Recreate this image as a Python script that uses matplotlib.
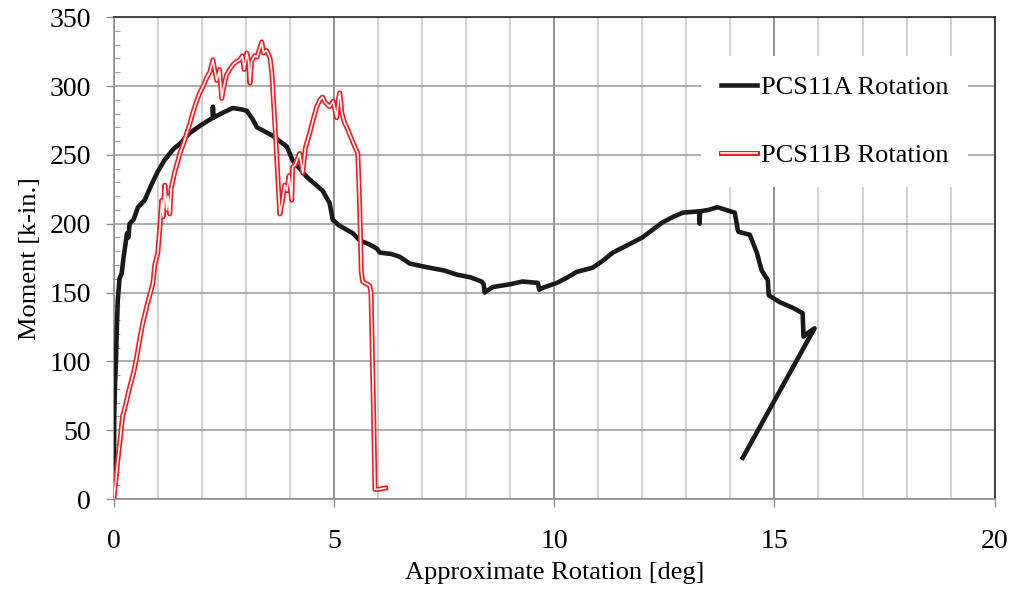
import matplotlib.pyplot as plt
import matplotlib.patheffects as pe
from matplotlib.ticker import MultipleLocator

plt.rcParams['font.family'] = ['Liberation Serif', 'DejaVu Serif']

# PCS11A rotation (deg) vs moment (k-in.)
rot_a = [0, 0.01, 0.03, 0.05, 0.07, 0.09, 0.13, 0.18, 0.22, 0.3, 0.33, 0.36, 0.45,
         0.55, 0.7, 0.85, 1.0, 1.15, 1.32, 1.38, 1.5, 1.73, 2.0, 2.25, 2.25, 2.26,
         2.5, 2.7, 2.9, 3.02, 3.15, 3.25, 3.6, 3.93, 4.06, 4.38, 4.74, 4.9, 4.97,
         5.1, 5.43, 5.58, 5.8, 5.97, 6.04, 6.3, 6.49, 6.72, 7.17, 7.5, 7.79, 8.1,
         8.35, 8.4, 8.42, 8.6, 9.0, 9.28, 9.63, 9.66, 9.7, 10.06, 10.3, 10.51,
         10.87, 11.1, 11.33, 11.7, 12.0, 12.25, 12.46, 12.7, 12.92, 13.3, 13.3,
         13.31, 13.5, 13.71, 13.9, 14.1, 14.17, 14.19, 14.44, 14.6, 14.71, 14.85,
         14.87, 15.12, 15.41, 15.64, 15.66, 15.73, 15.91, 14.28]
mom_a = [0, 60, 85, 101, 125, 144, 160, 164, 175, 193, 190, 200, 203,
         212, 217, 228, 238, 246, 253, 255, 258, 266, 272, 277, 285, 277,
         281, 284, 283, 282, 276, 270, 264, 256, 246, 234, 224, 215, 203,
         199, 193, 188, 185, 182, 179, 178, 176, 171, 168, 166, 163, 161,
         158, 156, 150, 154, 156, 158, 157, 152, 153, 157, 161, 165,
         168, 173, 179, 185, 190, 196, 201, 205, 208, 209, 200,
         209, 210, 212, 210, 208, 195, 194, 192, 179, 166, 159,
         148, 143, 139, 135, 118, 120, 124, 30]

# PCS11B rotation (deg) vs moment (k-in.)
rot_b = [0, 0.05, 0.09, 0.15, 0.2, 0.28, 0.36, 0.45, 0.52, 0.6, 0.66, 0.75, 0.89,
         0.93, 1.0, 1.04, 1.09, 1.12, 1.16, 1.2, 1.23, 1.27, 1.3, 1.38, 1.45, 1.5,
         1.58, 1.66, 1.72, 1.79, 1.87, 1.95, 2.03, 2.11, 2.18, 2.25, 2.3, 2.34,
         2.4, 2.45, 2.5, 2.56, 2.63, 2.72, 2.8, 2.86, 2.92, 2.96, 3.02, 3.06, 3.09,
         3.13, 3.2, 3.25, 3.3, 3.36, 3.4, 3.46, 3.5, 3.55, 3.59, 3.68, 3.77, 3.82,
         3.88, 3.93, 3.98, 4.04, 4.06, 4.12, 4.18, 4.22, 4.29, 4.35, 4.45, 4.53,
         4.61, 4.68, 4.74, 4.8, 4.9, 4.98, 5.06, 5.1, 5.13, 5.18, 5.24, 5.29, 5.38,
         5.47, 5.54, 5.58, 5.62, 5.65, 5.7, 5.81, 5.84, 5.9, 5.93, 6.0, 6.17]
mom_b = [0, 15, 28, 45, 60, 70, 81, 92, 103, 118, 128, 140, 157,
         170, 179, 195, 217, 205, 228, 210, 220, 207, 225, 237, 245, 251,
         258, 266, 272, 280, 288, 295, 300, 306, 310, 319, 310, 304,
         312, 291, 300, 308, 312, 316, 318, 319, 322, 312, 324, 318, 302,
         318, 322, 321, 326, 332, 324, 326, 324, 320, 309, 260, 207, 215,
         228, 224, 235, 217, 241, 243, 248, 251, 237, 255, 266, 276,
         285, 290, 292, 288, 285, 289, 277, 290, 295, 280, 273, 270, 263,
         256, 251, 215, 165, 158, 157, 155, 150, 60, 7, 7, 8]

fig = plt.figure(figsize=(10.16, 5.92), dpi=100)
ax = fig.add_axes([0.112, 0.157, 0.867, 0.814])

ax.plot(rot_a, mom_a, color='#1a1a1a', lw=3.3, solid_joinstyle='round',
        label='PCS11A Rotation', zorder=3)
ax.plot(rot_b, mom_b, color='white', lw=1.2, solid_joinstyle='round',
        label='PCS11B Rotation', zorder=4,
        path_effects=[pe.Stroke(linewidth=3.6, foreground='#ee1c24'), pe.Normal()])

ax.set_xlim(0, 20)
ax.set_ylim(0, 350)
ax.xaxis.set_major_locator(MultipleLocator(5))
ax.xaxis.set_minor_locator(MultipleLocator(1))
ax.yaxis.set_major_locator(MultipleLocator(50))
ax.yaxis.set_minor_locator(MultipleLocator(10))

ax.grid(which='minor', axis='x', color='#c8c8c8', lw=1.2, zorder=1)
ax.grid(which='major', axis='x', color='#7f7f7f', lw=1.2, zorder=1)
ax.grid(which='major', axis='y', color='#a0a0a0', lw=1.2, zorder=1)
ax.set_axisbelow(True)

ax.tick_params(axis='both', which='major', direction='out', length=5.5,
               width=1, color='#909090', labelsize=20)
ax.tick_params(axis='x', which='major', pad=16)
ax.tick_params(axis='y', which='major', pad=11)
ax.tick_params(axis='x', which='minor', length=0)
ax.tick_params(axis='y', which='minor', direction='in', length=4, color='#909090')

for s in ['left', 'bottom']:
    ax.spines[s].set_color('#909090')
    ax.spines[s].set_linewidth(1.2)
for s in ['top', 'right']:
    ax.spines[s].set_color('#262626')
    ax.spines[s].set_linewidth(1.2)

ax.set_xlabel('Approximate Rotation [deg]', fontsize=19, labelpad=6)
ax.set_ylabel('Moment [k-in.]', fontsize=19, labelpad=6)

leg = ax.legend(loc='upper left', bbox_to_anchor=(0.667, 0.92), fontsize=19,
                frameon=True, fancybox=False, framealpha=1, edgecolor='none',
                facecolor='white', handlelength=1.35, handletextpad=0.15,
                labelspacing=1.68, borderpad=0.75, borderaxespad=0)

fig.savefig('out.png', dpi=100)
